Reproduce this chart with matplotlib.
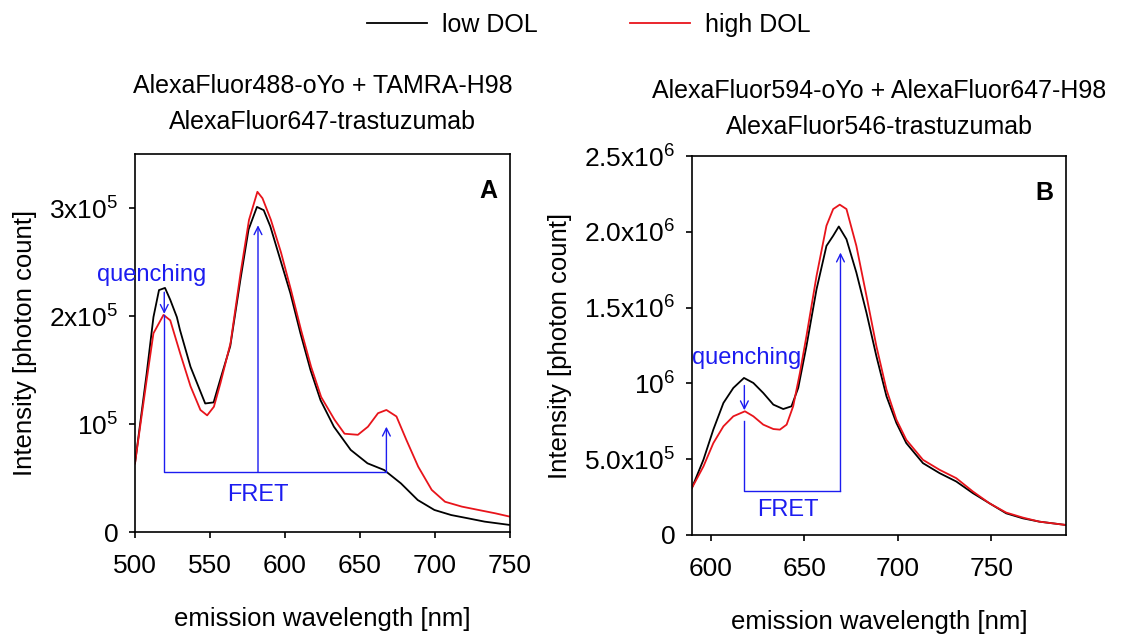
import numpy as np
import matplotlib
matplotlib.use("Agg")
import matplotlib.pyplot as plt

plt.rcParams['font.family'] = ['Liberation Sans', 'DejaVu Sans']
plt.rcParams['mathtext.fontset'] = 'custom'
plt.rcParams['mathtext.rm'] = 'Liberation Sans'
plt.rcParams['mathtext.default'] = 'regular'

# panel A spectra
wl_a_low = [500, 507.8, 512.3, 516, 520, 523.5, 527.9, 530, 537.0, 546.8, 552.4, 556.8,
            563.5, 570.2, 575.7, 581.3, 585.8, 590.2, 596.9, 603.6, 610.3, 617.0, 623.7,
            632.6, 643.8, 655.0, 666.1, 677.3, 688.5, 699.6, 710.8, 721.9, 733.1, 750]
int_a_low = [0.636, 1.47, 1.99, 2.24, 2.26, 2.15, 1.99, 1.87, 1.53, 1.19, 1.20, 1.41,
             1.72, 2.33, 2.80, 3.01, 2.98, 2.83, 2.52, 2.21, 1.84, 1.50, 1.22,
             0.975, 0.76, 0.636, 0.574, 0.45, 0.296, 0.204, 0.157, 0.127, 0.096, 0.065]

wl_a_high = [500, 507.8, 512.3, 519.0, 523.5, 530.2, 537.0, 543.6, 548.1, 552.6, 557.0,
             563.7, 570.4, 576.0, 581.6, 585.0, 590.6, 597.3, 604.0, 610.7, 617.4, 624.1,
             633.0, 639.7, 648.6, 655.3, 662.0, 667.6, 674.3, 681.0, 688.8, 697.8, 706.7,
             717.9, 729.0, 740.2, 750]
int_a_high = [0.636, 1.41, 1.84, 2.01, 1.96, 1.65, 1.35, 1.13, 1.08, 1.16, 1.38,
              1.75, 2.40, 2.89, 3.15, 3.09, 2.89, 2.59, 2.24, 1.87, 1.53, 1.25,
              1.04, 0.91, 0.90, 0.975, 1.10, 1.13, 1.07, 0.85, 0.605, 0.39, 0.28,
              0.235, 0.204, 0.173, 0.142]

# panel B spectra
wl_b_low = [589.9, 596.1, 601.4, 606.8, 612.1, 617.8, 622.8, 628.1, 633.5, 638.8, 643.2,
            646.8, 651.2, 656.6, 661.9, 665.5, 668.5, 672.6, 677.9, 683.3, 688.6, 694.0,
            699.3, 704.6, 713.5, 722.4, 731.3, 740.2, 749.1, 758.0, 766.9, 775.8, 790]
int_b_low = [0.309, 0.496, 0.695, 0.871, 0.970, 1.036, 1.003, 0.937, 0.860, 0.831, 0.849,
             0.970, 1.246, 1.621, 1.907, 1.974, 2.035, 1.951, 1.731, 1.466, 1.180, 0.915,
             0.739, 0.606, 0.474, 0.408, 0.353, 0.276, 0.209, 0.143, 0.110, 0.088, 0.066]

wl_b_high = [589.9, 596.1, 601.4, 606.8, 612.1, 618.3, 622.8, 628.1, 633.5, 637.0, 640.6,
             644.1, 647.7, 651.2, 656.6, 661.9, 665.5, 669.0, 672.6, 677.9, 683.3, 688.6,
             694.0, 699.3, 704.6, 713.5, 722.4, 731.3, 740.2, 749.1, 758.0, 766.9, 775.8, 790]
int_b_high = [0.309, 0.452, 0.606, 0.717, 0.783, 0.816, 0.783, 0.728, 0.699, 0.695, 0.728,
              0.849, 1.069, 1.312, 1.709, 2.040, 2.150, 2.179, 2.150, 1.907, 1.577, 1.246,
              0.959, 0.761, 0.628, 0.496, 0.430, 0.375, 0.287, 0.209, 0.148, 0.115, 0.088, 0.066]

ticks_a = [0, 1e5, 2e5, 3e5]
labels_a = ['0', '10$^{5}$', '2x10$^{5}$', '3x10$^{5}$']
ticks_b = [0, 5e5, 1e6, 1.5e6, 2e6, 2.5e6]
labels_b = ['0', '5.0x10$^{5}$', '10$^{6}$', '1.5x10$^{6}$', '2.0x10$^{6}$', '2.5x10$^{6}$']

blue = '#1c1cf0'
W, H = 1137, 637
fig = plt.figure(figsize=(W / 100, H / 100), dpi=100)

def box(x0, y0, x1, y1):
    return [x0 / W, 1 - y1 / H, (x1 - x0) / W, (y1 - y0) / H]

axA = fig.add_axes(box(135, 154, 510, 532))
axB = fig.add_axes(box(692, 156, 1066, 535))

axA.plot(wl_a_low, np.array(int_a_low) * 1e5, color='black', lw=1.3)
axA.plot(wl_a_high, np.array(int_a_high) * 1e5, color='#e8141b', lw=1.3)
axB.plot(wl_b_low, np.array(int_b_low) * 1e6, color='black', lw=1.3)
axB.plot(wl_b_high, np.array(int_b_high) * 1e6, color='#e8141b', lw=1.3)

axA.set_xlim(500, 750)
axA.set_ylim(0, 3.5e5)
axA.set_xticks([500, 550, 600, 650, 700, 750])
axA.set_yticks(ticks_a, labels_a)
axB.set_xlim(590, 790)
axB.set_ylim(0, 2.5e6)
axB.set_xticks([600, 650, 700, 750])
axB.set_yticks(ticks_b, labels_b)

for ax in (axA, axB):
    ax.tick_params(direction='out', length=4, width=1.2, labelsize=19)
    ax.tick_params(axis='x', pad=12)
    ax.tick_params(axis='y', pad=8)
    for s in ax.spines.values():
        s.set_linewidth(1.2)
    ax.set_xlabel('emission wavelength [nm]', fontsize=18.5, labelpad=21)
    ax.set_ylabel('Intensity [photon count]', fontsize=18.5, labelpad=9)

axA.text(0.965, 0.935, 'A', transform=axA.transAxes, fontsize=18, fontweight='bold',
         ha='right', va='top')
axB.text(0.965, 0.935, 'B', transform=axB.transAxes, fontsize=18, fontweight='bold',
         ha='right', va='top')

axA.set_title('AlexaFluor488-oYo + TAMRA-H98\nAlexaFluor647-trastuzumab',
              fontsize=18, linespacing=1.65, pad=18)
axB.set_title('AlexaFluor594-oYo + AlexaFluor647-H98\nAlexaFluor546-trastuzumab',
              fontsize=18, linespacing=1.6, pad=16)

arr = dict(arrowstyle='->', color=blue, lw=1.0, shrinkA=0, shrinkB=0, mutation_scale=14)

# panel A annotations
axA.annotate('', xy=(519.5, 2.02e5), xytext=(519.5, 2.22e5), arrowprops=arr)
axA.plot([519.5, 519.5, 667.6], [2.01e5, 0.553e5, 0.553e5], color=blue, lw=1.0)
axA.annotate('', xy=(582, 2.84e5), xytext=(582, 0.553e5), arrowprops=arr)
axA.annotate('', xy=(667.6, 0.975e5), xytext=(667.6, 0.553e5), arrowprops=arr)
axA.text(511, 2.38e5, 'quenching', color=blue, fontsize=17, ha='center', va='center')
axA.text(582, 0.34e5, 'FRET', color=blue, fontsize=17, ha='center', va='center')

# panel B annotations
axB.annotate('', xy=(618, 0.823e6), xytext=(618, 0.986e6), arrowprops=arr)
axB.plot([617.6, 617.6, 669.4], [0.75e6, 0.287e6, 0.287e6], color=blue, lw=1.0)
axB.annotate('', xy=(669.4, 1.863e6), xytext=(669.4, 0.287e6), arrowprops=arr)
axB.text(619, 1.169e6, 'quenching', color=blue, fontsize=17, ha='center', va='center')
axB.text(641.5, 0.165e6, 'FRET', color=blue, fontsize=17, ha='center', va='center')

handles = [axA.lines[0], axA.lines[1]]
fig.legend(handles, ['low DOL', 'high DOL'], loc='center',
           bbox_to_anchor=(0.5176, 1 - 25 / H),
           ncol=2, frameon=False, fontsize=18, handlelength=2.4, handletextpad=0.6,
           columnspacing=3.7)

fig.savefig('out.png', dpi=100)
